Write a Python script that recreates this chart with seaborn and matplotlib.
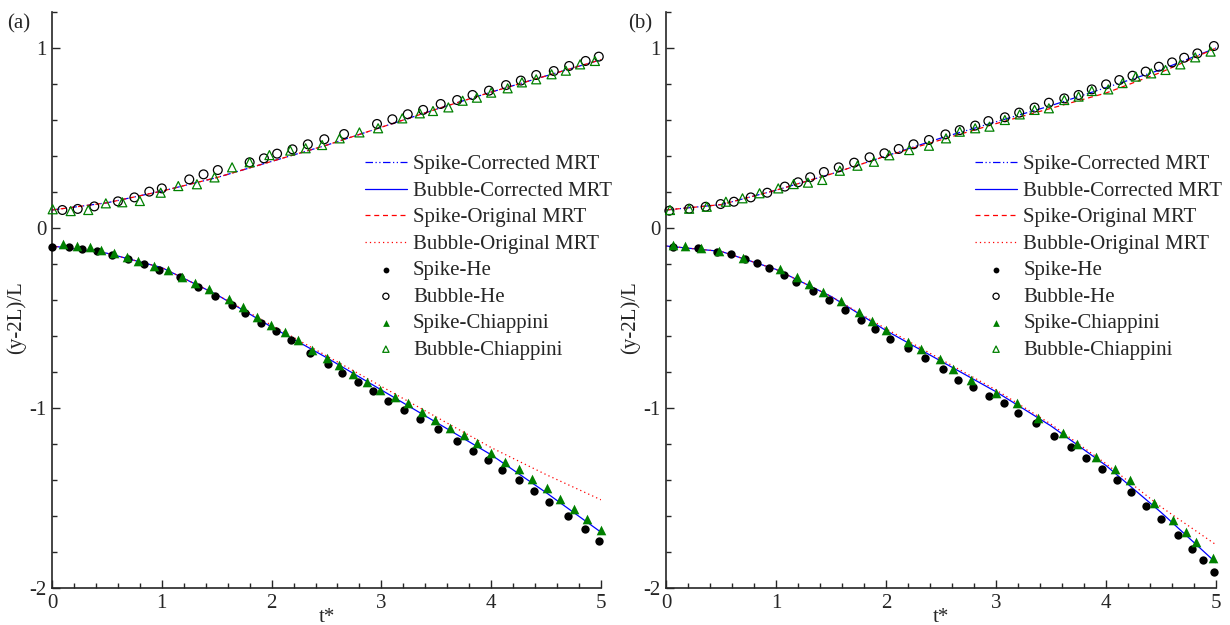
import numpy as np
import matplotlib
matplotlib.use("Agg")
import matplotlib.pyplot as plt
from matplotlib.ticker import MultipleLocator
import seaborn as sns

# model curves
t_line = [0.0, 0.5, 1.0, 1.5, 2.0, 2.5, 3.0, 3.5, 4.0, 4.5, 5.0]

a_upper_corr = [0.10, 0.14, 0.205, 0.28, 0.37, 0.46, 0.56, 0.66, 0.755, 0.845, 0.935]
a_upper_orig = [0.10, 0.14, 0.205, 0.28, 0.37, 0.46, 0.56, 0.66, 0.755, 0.845, 0.935]
a_lower_corr = [-0.10, -0.14, -0.22, -0.37, -0.55, -0.72, -0.90, -1.08, -1.26, -1.47, -1.69]
a_lower_orig = [-0.10, -0.14, -0.22, -0.37, -0.54, -0.71, -0.88, -1.05, -1.22, -1.37, -1.51]

b_upper_corr = [0.10, 0.13, 0.21, 0.30, 0.40, 0.50, 0.59, 0.68, 0.78, 0.88, 1.00]
b_upper_orig = [0.10, 0.13, 0.21, 0.30, 0.40, 0.49, 0.58, 0.665, 0.75, 0.865, 1.00]
b_lower_corr = [-0.10, -0.13, -0.23, -0.38, -0.57, -0.74, -0.91, -1.10, -1.32, -1.58, -1.86]
b_lower_orig = [-0.10, -0.13, -0.23, -0.38, -0.56, -0.73, -0.90, -1.09, -1.31, -1.55, -1.76]

# reference data, panel (a)
a_spike_he_t = [0.0, 0.155, 0.27, 0.41, 0.55, 0.695, 0.84, 0.975, 1.166, 1.33, 1.48, 1.64,
                1.76, 1.90, 2.04, 2.18, 2.35, 2.51, 2.64, 2.79, 2.92, 3.06, 3.21, 3.35, 3.52,
                3.69, 3.83, 3.97, 4.10, 4.25, 4.39, 4.53, 4.70, 4.85, 4.98]
a_spike_he_y = [-0.104, -0.107, -0.115, -0.130, -0.15, -0.174, -0.202, -0.233, -0.274, -0.326,
                -0.376, -0.428, -0.474, -0.526, -0.574, -0.624, -0.693, -0.756, -0.807, -0.854,
                -0.906, -0.959, -1.011, -1.061, -1.119, -1.181, -1.237, -1.289, -1.346, -1.402,
                -1.461, -1.522, -1.600, -1.672, -1.737]
a_spike_ch_t = [0.10, 0.23, 0.35, 0.45, 0.565, 0.68, 0.78, 0.93, 1.06, 1.18, 1.30, 1.43, 1.615,
                1.74, 1.87, 1.99, 2.12, 2.24, 2.365, 2.50, 2.61, 2.74, 2.87, 2.99, 3.12, 3.24,
                3.37, 3.49, 3.625, 3.75, 3.87, 4.00, 4.13, 4.25, 4.37, 4.505, 4.63, 4.75, 4.875, 5.0]
a_spike_ch_y = [-0.091, -0.100, -0.107, -0.122, -0.141, -0.159, -0.181, -0.211, -0.233, -0.27,
                -0.304, -0.341, -0.393, -0.439, -0.496, -0.541, -0.580, -0.620, -0.678, -0.724,
                -0.763, -0.81, -0.854, -0.900, -0.937, -0.974, -1.020, -1.067, -1.113, -1.150,
                -1.196, -1.252, -1.298, -1.341, -1.394, -1.446, -1.507, -1.561, -1.615, -1.678]
a_bubble_he_t = [0.094, 0.234, 0.385, 0.60, 0.75, 0.886, 1.0, 1.25, 1.38, 1.51, 1.80, 1.93, 2.05,
                 2.19, 2.33, 2.48, 2.66, 2.96, 3.10, 3.24, 3.38, 3.54, 3.69, 3.83, 3.98, 4.135,
                 4.27, 4.41, 4.57, 4.71, 4.86, 4.98]
a_bubble_he_y = [0.100, 0.106, 0.120, 0.148, 0.170, 0.202, 0.220, 0.270, 0.298, 0.322, 0.365,
                 0.387, 0.413, 0.437, 0.465, 0.493, 0.522, 0.578, 0.604, 0.632, 0.656, 0.689,
                 0.711, 0.739, 0.763, 0.794, 0.819, 0.850, 0.872, 0.900, 0.928, 0.952]
a_bubble_ch_t = [0.006, 0.17, 0.33, 0.49, 0.64, 0.80, 0.99, 1.15, 1.32, 1.48, 1.64, 1.80, 1.98,
                 2.17, 2.31, 2.46, 2.62, 2.80, 2.97, 3.19, 3.35, 3.47, 3.61, 3.74, 3.87, 4.00,
                 4.15, 4.28, 4.41, 4.55, 4.68, 4.81, 4.945]
a_bubble_ch_y = [0.104, 0.094, 0.100, 0.137, 0.143, 0.150, 0.196, 0.233, 0.243, 0.281, 0.337,
                 0.365, 0.405, 0.430, 0.443, 0.461, 0.498, 0.531, 0.554, 0.609, 0.637, 0.650,
                 0.670, 0.707, 0.724, 0.752, 0.776, 0.809, 0.826, 0.854, 0.874, 0.909, 0.928]

# reference data, panel (b)
b_spike_he_t = [0.06, 0.29, 0.46, 0.59, 0.716, 0.83, 0.934, 1.07, 1.185, 1.335, 1.48, 1.63, 1.77,
                1.90, 2.04, 2.20, 2.35, 2.52, 2.65, 2.79, 2.94, 3.07, 3.20, 3.36, 3.53, 3.68,
                3.82, 3.965, 4.095, 4.23, 4.36, 4.50, 4.65, 4.78, 4.88, 4.98]
b_spike_he_y = [-0.107, -0.113, -0.135, -0.146, -0.172, -0.196, -0.220, -0.261, -0.302, -0.348,
                -0.400, -0.456, -0.511, -0.561, -0.617, -0.669, -0.720, -0.783, -0.844, -0.881,
                -0.933, -0.974, -1.030, -1.085, -1.154, -1.215, -1.276, -1.339, -1.402, -1.467,
                -1.543, -1.619, -1.706, -1.783, -1.846, -1.909]
b_spike_ch_t = [0.066, 0.17, 0.32, 0.48, 0.695, 1.04, 1.19, 1.30, 1.43, 1.59, 1.75, 1.87, 2.00,
                2.20, 2.32, 2.49, 2.61, 2.77, 3.00, 3.19, 3.38, 3.61, 3.74, 3.91, 4.085, 4.22,
                4.44, 4.61, 4.73, 4.82, 4.97]
b_spike_ch_y = [-0.094, -0.098, -0.109, -0.126, -0.165, -0.228, -0.274, -0.311, -0.354, -0.407,
                -0.467, -0.519, -0.567, -0.631, -0.670, -0.730, -0.783, -0.844, -0.915, -0.974,
                -1.054, -1.141, -1.200, -1.270, -1.339, -1.400, -1.530, -1.622, -1.687, -1.743,
                -1.835]
b_bubble_he_t = [0.03, 0.21, 0.36, 0.496, 0.617, 0.77, 0.92, 1.08, 1.20, 1.31, 1.435, 1.57, 1.71,
                 1.85, 1.985, 2.115, 2.25, 2.39, 2.54, 2.67, 2.81, 2.93, 3.08, 3.21, 3.35, 3.48,
                 3.62, 3.75, 3.87, 4.00, 4.12, 4.24, 4.36, 4.48, 4.60, 4.71, 4.83, 4.98]
b_bubble_he_y = [0.096, 0.107, 0.118, 0.133, 0.146, 0.170, 0.196, 0.230, 0.254, 0.282, 0.311,
                 0.337, 0.363, 0.393, 0.415, 0.439, 0.465, 0.489, 0.520, 0.544, 0.569, 0.594,
                 0.615, 0.641, 0.669, 0.696, 0.720, 0.739, 0.770, 0.798, 0.822, 0.846, 0.869,
                 0.896, 0.920, 0.946, 0.970, 1.011]
b_bubble_ch_t = [0.036, 0.21, 0.37, 0.544, 0.695, 0.85, 1.02, 1.16, 1.29, 1.42, 1.58, 1.74, 1.89,
                 2.03, 2.21, 2.39, 2.545, 2.67, 2.81, 2.94, 3.08, 3.215, 3.35, 3.48, 3.62, 3.75,
                 3.87, 4.02, 4.15, 4.27, 4.41, 4.54, 4.675, 4.81, 4.95]
b_bubble_ch_y = [0.100, 0.107, 0.118, 0.146, 0.165, 0.193, 0.220, 0.244, 0.252, 0.267, 0.318,
                 0.346, 0.368, 0.404, 0.433, 0.457, 0.498, 0.535, 0.554, 0.563, 0.600, 0.631,
                 0.656, 0.665, 0.711, 0.730, 0.761, 0.770, 0.805, 0.841, 0.859, 0.878, 0.909,
                 0.948, 0.980]

labels = ["Spike-Corrected MRT", "Bubble-Corrected MRT", "Spike-Original MRT",
          "Bubble-Original MRT", "Spike-He", "Bubble-He", "Spike-Chiappini", "Bubble-Chiappini"]

sns.set_style("ticks")
plt.rcParams["font.family"] = ["Liberation Serif", "DejaVu Serif"]
plt.rcParams["font.size"] = 15
plt.rcParams["axes.unicode_minus"] = False

GREEN = "#008000"


def panel(ax, up_corr, lo_corr, up_orig, lo_orig, she, bhe, sch, bch, leg_x):
    sns.lineplot(x=t_line, y=up_corr, ax=ax, color="blue", lw=0.9,
                 linestyle=(0, (6, 2, 1, 2, 1, 2)), label=labels[0])
    sns.lineplot(x=t_line, y=lo_corr, ax=ax, color="blue", lw=0.9,
                 linestyle="-", label=labels[1])
    sns.lineplot(x=t_line, y=up_orig, ax=ax, color="red", lw=0.9,
                 linestyle=(0, (4, 3)), label=labels[2])
    sns.lineplot(x=t_line, y=lo_orig, ax=ax, color="red", lw=0.9,
                 linestyle=(0, (1, 2.5)), label=labels[3])
    sns.scatterplot(x=she[0], y=she[1], ax=ax, marker="o", s=36, color="black",
                    edgecolor="black", linewidth=0, label=labels[4], clip_on=False, zorder=5)
    sns.scatterplot(x=bhe[0], y=bhe[1], ax=ax, marker="o", s=40, facecolor="none",
                    edgecolor="black", linewidth=0.9, label=labels[5], clip_on=False, zorder=5)
    sns.scatterplot(x=sch[0], y=sch[1], ax=ax, marker="^", s=48, color=GREEN,
                    edgecolor=GREEN, linewidth=0, label=labels[6], clip_on=False, zorder=6)
    sns.scatterplot(x=bch[0], y=bch[1], ax=ax, marker="^", s=42, facecolor="none",
                    edgecolor=GREEN, linewidth=0.9, label=labels[7], clip_on=False, zorder=6)

    ax.set_xlim(0, 5)
    ax.set_ylim(-2, 1.2)
    ax.set_xticks([0, 1, 2, 3, 4, 5])
    ax.set_yticks([-2, -1, 0, 1])
    ax.xaxis.set_minor_locator(MultipleLocator(0.2))
    ax.yaxis.set_minor_locator(MultipleLocator(0.2))
    ax.tick_params(which="both", direction="in", width=1, labelsize=15, pad=4)
    ax.tick_params(which="major", length=6)
    ax.tick_params(which="minor", length=3.5)
    sns.despine(ax=ax)
    for sp in ["left", "bottom"]:
        ax.spines[sp].set_linewidth(1.2)

    ax.set_xlabel("t*", fontsize=15)
    ax.xaxis.set_label_coords(0.5, -0.035)
    ax.set_ylabel("(y-2L)/L", fontsize=15)
    ax.yaxis.set_label_coords(-0.048, 0.47)

    h, l = ax.get_legend_handles_labels()
    ax.legend(h, l, loc="upper right", bbox_to_anchor=(leg_x, 0.752), frameon=False,
              fontsize=15, handlelength=2.0, handletextpad=0.3, labelspacing=0.33,
              borderpad=0, borderaxespad=0, markerscale=0.7)


fig = plt.figure(figsize=(12.3, 6.25), dpi=100)
ax_a = fig.add_axes([0.0423, 0.0592, 0.4463, 0.9216])
ax_b = fig.add_axes([0.5415, 0.0592, 0.4472, 0.9216])

panel(ax_a, a_upper_corr, a_lower_corr, a_upper_orig, a_lower_orig,
      (a_spike_he_t, a_spike_he_y), (a_bubble_he_t, a_bubble_he_y),
      (a_spike_ch_t, a_spike_ch_y), (a_bubble_ch_t, a_bubble_ch_y), 1.02)
panel(ax_b, b_upper_corr, b_lower_corr, b_upper_orig, b_lower_orig,
      (b_spike_he_t, b_spike_he_y), (b_bubble_he_t, b_bubble_he_y),
      (b_spike_ch_t, b_spike_ch_y), (b_bubble_ch_t, b_bubble_ch_y), 1.011)

fig.text(0.006, 0.978, "(a)", fontsize=15, va="top", ha="left")
fig.text(0.511, 0.978, "(b)", fontsize=15, va="top", ha="left")

fig.savefig("out.png", dpi=100)
